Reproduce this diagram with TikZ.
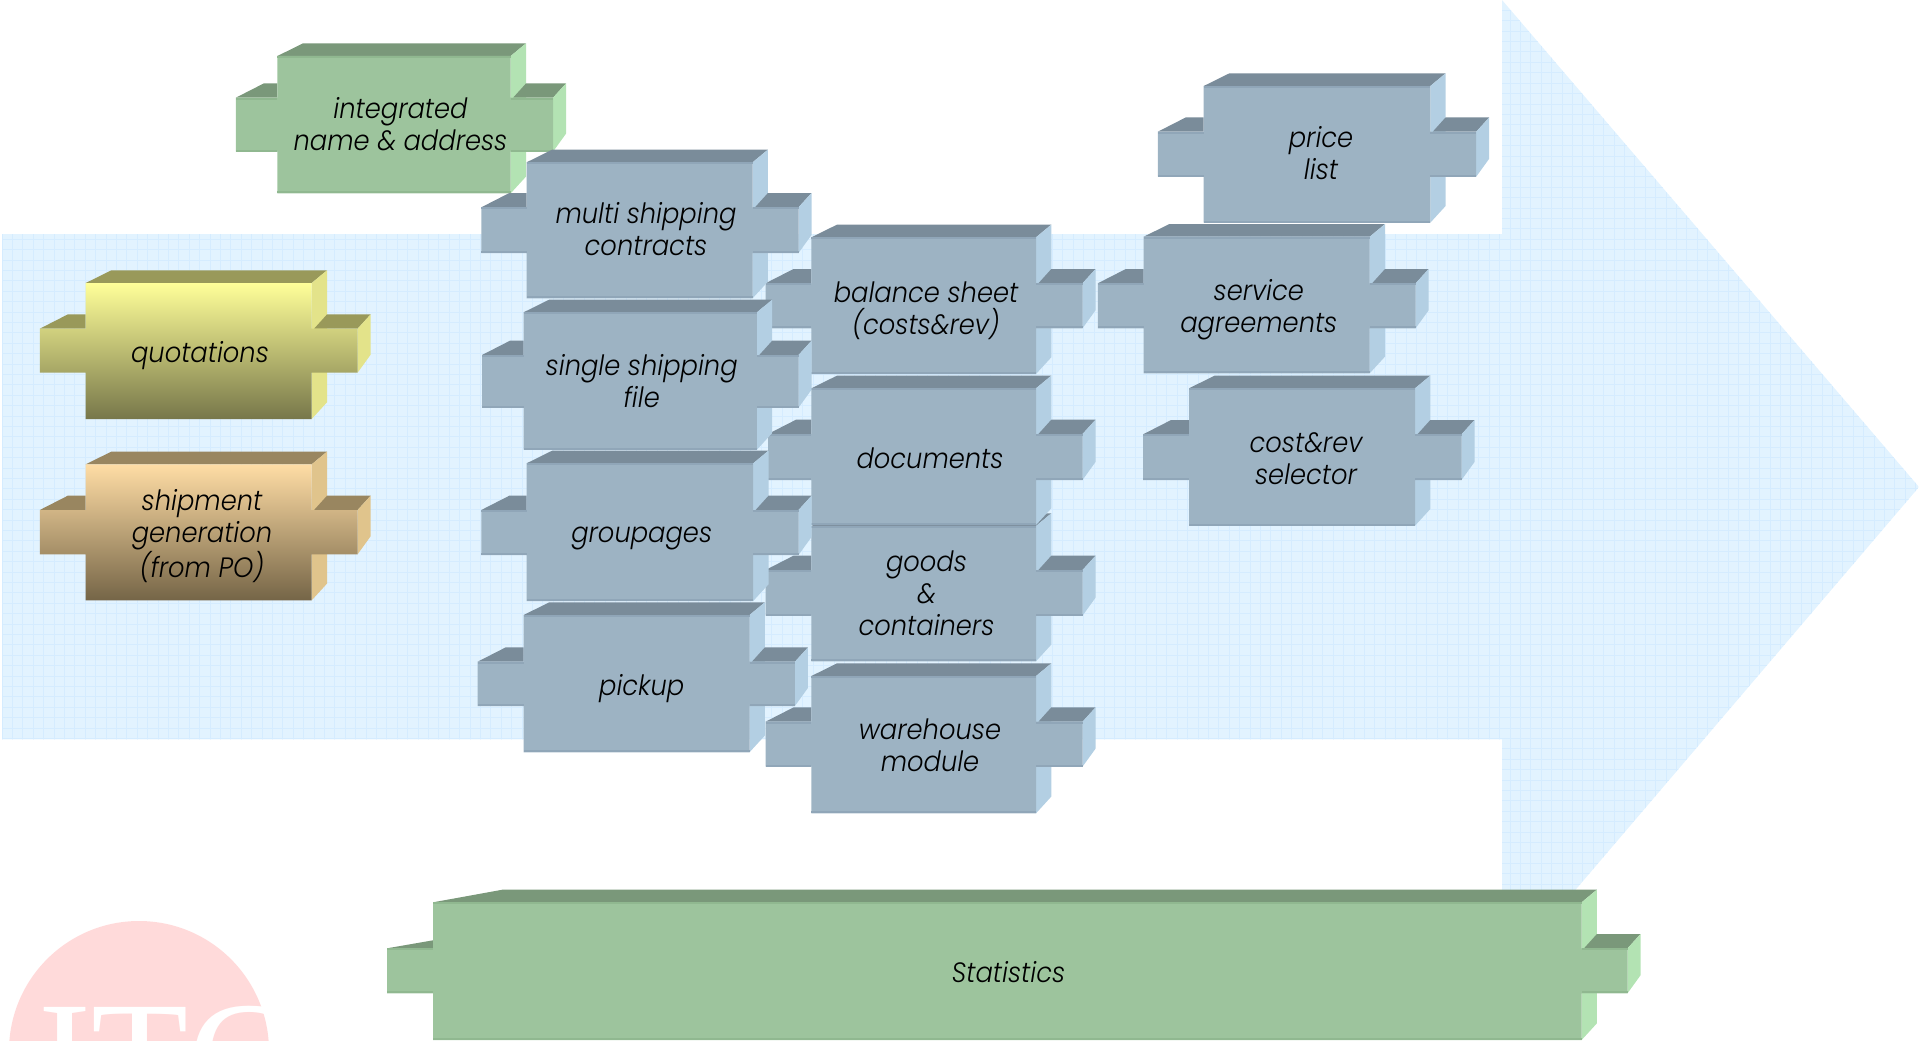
\documentclass[tikz,border=0pt]{standalone}
\usepackage{fontspec}
\newfontfamily\lbl{Poppins Light Italic}
\newfontfamily\logofont{Liberation Serif}
\definecolor{arrowfill}{HTML}{E2F3FF}
\definecolor{arrowgrid}{HTML}{D5ECFF}
\definecolor{logopink}{HTML}{FFDADA}
\definecolor{bluef}{HTML}{9DB3C3}\definecolor{bluet}{HTML}{7A8C9A}\definecolor{blues}{HTML}{B3CFE3}\definecolor{bluee}{HTML}{90A6B8}
\definecolor{greenf}{HTML}{9DC49D}\definecolor{greent}{HTML}{7A987A}\definecolor{greens}{HTML}{B3E3B3}\definecolor{greene}{HTML}{90B890}
\definecolor{yelt}{HTML}{99995A}\definecolor{yels}{HTML}{E3E38A}\definecolor{yelhi}{HTML}{FFFF99}\definecolor{yello}{HTML}{77774A}
\definecolor{orat}{HTML}{998660}\definecolor{oras}{HTML}{E0C48C}\definecolor{orahi}{HTML}{FFDDA5}\definecolor{oralo}{HTML}{756547}
\tikzset{
  x=1pt,y=-1pt,
  blocklabel/.style={font=\lbl\fontsize{28}{32}\selectfont,align=center,text=black,inner sep=0pt,xscale=0.92,transform shape},
  blueface/.style={fill=bluef},
  greenface/.style={fill=greenf},
  yelface/.style={top color=yelhi,bottom color=yello,middle color=yelhi!50!yello},
  oraface/.style={top color=orahi,bottom color=oralo,middle color=orahi!50!oralo},
}
\def\tlx{25.7}\def\alx{28}\def\ady{14.3}
\newif\ifedged
\newcommand{\pal}[4]{\def\cT{#1}\def\cS{#2}\def\cE{#3}\def\cF{#4}}
% x0 x1 y0 y1 ax0 ax1 ay0 ay1
\newcommand{\blk}[8]{%
  \def\xa{#1}\def\xb{#2}\def\ya{#3}\def\yb{#4}\def\axa{#5}\def\axb{#6}\def\aya{#7}\def\ayb{#8}%
  \fill[\cT] (\xa,\ya) -- ({\xa+\tlx},{\ya-12.7}) -- ({\xb+15.3},{\ya-12.7}) -- (\xb,\ya) -- cycle;
  \fill[\cS] (\xb,\ya) -- ({\xb+15.3},{\ya-12.7}) -- ({\xb+15.3},{\yb-16.7}) -- (\xb,\yb) -- cycle;
  \fill[\cT] (\axa,\aya) -- ({\axa+\alx},{\aya-\ady}) -- (\xa,{\aya-\ady}) -- (\xa,\aya) -- cycle;
  \fill[\cT] ({\xb+2.4},\aya) -- ({\xb+15.3},{\aya-14.3}) -- ({\axb+13},{\aya-14.3}) -- (\axb,\aya) -- cycle;
  \fill[\cS] (\axb,\aya) -- ({\axb+13},{\aya-14.3}) -- ({\axb+13},{\ayb-18}) -- (\axb,\ayb) -- cycle;
  \path[style=\cF] (\xa,\ya) -- (\xb,\ya) -- (\xb,\aya) -- (\axb,\aya) -- (\axb,\ayb) -- (\xb,\ayb) -- (\xb,\yb) -- (\xa,\yb) -- (\xa,\ayb) -- (\axa,\ayb) -- (\axa,\aya) -- (\xa,\aya) -- cycle;
  \ifedged
  \fill[\cE] (\xa,\ya) rectangle (\xb,{\ya+2});
  \fill[\cE] (\xa,{\yb-2}) rectangle (\xb,\yb);
  \fill[\cE] (\axa,\aya) rectangle (\xa,{\aya+2});
  \fill[\cE] (\xb,\aya) rectangle (\axb,{\aya+2});
  \fill[\cE] (\axa,{\ayb-2}) rectangle (\xa,\ayb);
  \fill[\cE] (\xb,{\ayb-2}) rectangle (\axb,\ayb);
  \fi}
\begin{document}
\begin{tikzpicture}
\useasboundingbox (0,0) rectangle (1919,1041);
\begin{scope}
  \clip (2,234) -- (1502,234) -- (1502,0) -- (1919,487) -- (1502,976) -- (1502,739.3) -- (2,739.3) -- cycle;
  \fill[arrowfill] (0,0) rectangle (1919,1041);
  \foreach \i in {0,...,184} \draw[arrowgrid,line width=1pt] ({2+\i*10.4},0) -- ({2+\i*10.4},1041);
  \foreach \i in {0,...,100} \draw[arrowgrid,line width=1pt] (0,{\i*10.4}) -- (1919,{\i*10.4});
\end{scope}
\begin{scope}
  \clip (0,0) rectangle (1919,1041);
  \fill[logopink] (139,1051) circle (130);
  \node[anchor=base west,inner sep=0pt,text=white,font=\logofont\fontsize{159}{159}\selectfont] (logo) at (38,1111) {ITC};
\end{scope}
\edgedtrue
\pal{greent}{greens}{greene}{greenface}
\blk{277.4}{510.7}{56}{193.3}{235.8}{553}{97.7}{151.7}
\pal{bluet}{blues}{bluee}{blueface}
\blk{811.4}{1036}{237.3}{374}{765.5}{1082.5}{283.3}{328.3}
\blk{811.4}{1036}{526}{661.3}{765.5}{1082.5}{570}{615.7}
\blk{811.4}{1036}{388.3}{525}{768}{1082.5}{434}{480}
\blk{811.4}{1036}{676}{813.3}{765.5}{1082.5}{721.7}{766.7}
\blk{526.6}{752.6}{162.3}{298.3}{481.3}{798.5}{207.3}{253}
\blk{523.6}{756.9}{312.3}{449.7}{482}{798.5}{355}{407.7}
\blk{526.6}{753.2}{463.3}{601}{481.3}{798.5}{510}{555}
\blk{523.6}{749.5}{615}{752.3}{477.6}{794.9}{661.7}{706}
\blk{1203.7}{1430.3}{86}{222.7}{1157.8}{1476.2}{131.7}{176.7}
\blk{1143.7}{1369.7}{236.7}{373.3}{1097.8}{1415.6}{283.3}{328.3}
\blk{1189}{1415}{388.3}{525.7}{1143.1}{1461.5}{434.3}{480}
\edgedfalse
\pal{yelt}{yels}{}{yelface}
\blk{85.7}{311.7}{283}{419}{39.8}{357.6}{328.7}{372.7}
\pal{orat}{oras}{}{oraface}
\blk{85.7}{311.7}{464.3}{600.3}{39.8}{357.6}{510}{554.3}
\edgedtrue
\def\tlx{70}\def\alx{46}\def\ady{8}
\pal{greent}{greens}{greene}{greenface}
\blk{433}{1581.6}{902.3}{1040}{387}{1627.5}{948.3}{993.3}
\node[blocklabel] (integrated) at (400.5,124.5) {integrated\\name \& address};
\node[blocklabel] (multi) at (646,229.3) {multi shipping\\contracts};
\node[blocklabel] (single) at (641.7,380.8) {single shipping\\file};
\node[blocklabel] (groupages) at (641.7,538) {groupages};
\node[blocklabel] (pickup) at (641.7,688.1) {pickup};
\node[blocklabel] (quotations) at (200,355.1) {quotations};
\node[blocklabel] (shipment) at (202,536) {shipment\\generation\\(from PO)};
\node[blocklabel] (balance) at (926,310.7) {balance sheet\\(costs\&rev)};
\node[blocklabel] (documents) at (930,457.8) {documents};
\node[blocklabel] (goods) at (926.5,593.6) {goods\\\&\\containers};
\node[blocklabel] (warehouse) at (930,745.4) {warehouse\\module};
\node[blocklabel] (price) at (1321,153.4) {price\\list};
\node[blocklabel] (service) at (1258.8,309.7) {service\\agreements};
\node[blocklabel] (cost) at (1306,458.7) {cost\&rev\\selector};
\node[blocklabel] (statistics) at (1008.5,971.8) {Statistics};
\end{tikzpicture}
\end{document}
